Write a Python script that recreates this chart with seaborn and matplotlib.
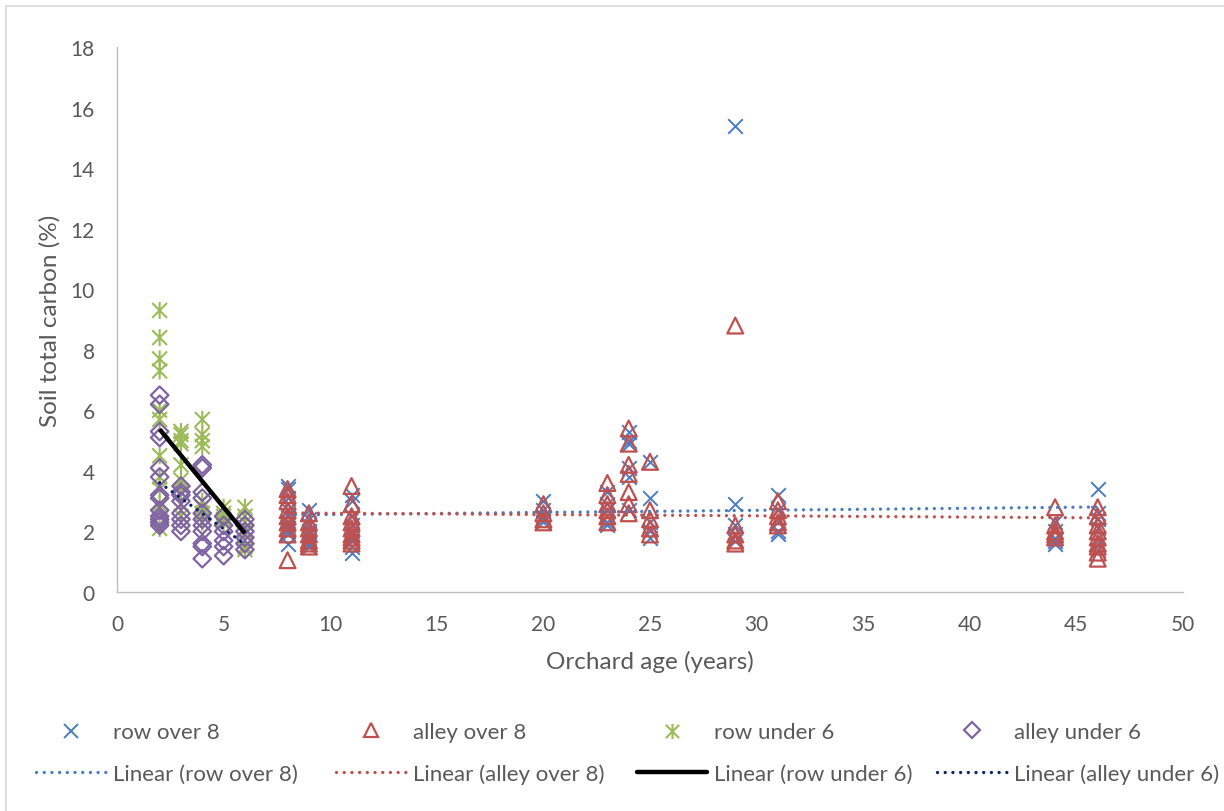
import numpy as np
import pandas as pd
import matplotlib
matplotlib.use("Agg")
import matplotlib.pyplot as plt
import seaborn as sns
from matplotlib.path import Path
from matplotlib.lines import Line2D

# ---------------- data ----------------
row_over8 = {
    8: [3.5, 3.4, 3.1, 2.9, 2.7, 2.5, 2.3, 2.2, 2.1, 2.0, 1.9, 1.6],
    9: [2.7, 2.4, 2.2, 2.0, 1.9, 1.8, 1.7, 1.6, 1.5],
    11: [3.2, 3.0, 2.5, 2.2, 2.0, 1.9, 1.8, 1.7, 1.5, 1.3],
    20: [3.0, 2.7, 2.5, 2.4, 2.3],
    23: [3.3, 2.9, 2.7, 2.5, 2.3, 2.2],
    24: [5.3, 5.0, 4.9, 4.1, 3.8, 2.7],
    25: [4.3, 3.1, 2.3, 2.0, 1.8],
    29: [15.4, 2.9, 2.2, 1.9, 1.7],
    31: [3.2, 2.7, 2.3, 2.0, 1.9],
    44: [2.3, 2.0, 1.8, 1.7, 1.6],
    46: [3.4, 2.6, 2.4, 2.1, 1.8, 1.6, 1.4],
}
alley_over8 = {
    8: [3.4, 3.2, 3.0, 2.7, 2.5, 2.3, 2.1, 1.9, 1.05],
    9: [2.6, 2.3, 2.1, 1.9, 1.7, 1.6, 1.5],
    11: [3.5, 2.9, 2.5, 2.3, 2.1, 1.9, 1.8, 1.7, 1.6],
    20: [2.9, 2.6, 2.4, 2.3],
    23: [3.6, 3.2, 2.9, 2.7, 2.5, 2.3],
    24: [5.4, 4.9, 4.2, 3.9, 3.3, 2.9, 2.6],
    25: [4.3, 2.7, 2.4, 2.1, 1.9],
    29: [8.8, 2.2, 1.9, 1.7, 1.6],
    31: [3.0, 2.7, 2.5, 2.3, 2.2],
    44: [2.8, 2.2, 2.0, 1.9, 1.8],
    46: [2.8, 2.5, 2.2, 2.0, 1.8, 1.6, 1.5, 1.3, 1.1],
}
row_under6 = {
    2: [9.3, 8.4, 7.7, 7.3, 6.0, 5.7, 4.5, 3.8, 3.4, 2.9, 2.1],
    3: [5.3, 5.2, 5.0, 4.9, 4.2, 3.7, 3.3, 2.9, 2.5],
    4: [5.7, 5.2, 5.0, 4.8, 3.0, 2.8, 2.6, 2.3],
    5: [2.8, 2.6, 2.5, 2.4, 2.3],
    6: [2.8, 2.5, 2.3, 2.0, 1.5, 1.4],
}
alley_under6 = {
    2: [6.5, 6.2, 5.3, 5.1, 4.1, 3.8, 3.2, 3.1, 2.7, 2.5, 2.4, 2.3, 2.2],
    3: [3.5, 3.3, 3.2, 3.0, 2.6, 2.4, 2.2, 2.0],
    4: [4.2, 4.1, 3.3, 3.1, 2.6, 2.4, 2.2, 2.0, 1.6, 1.5, 1.1],
    5: [2.5, 2.2, 2.0, 1.7, 1.5, 1.2],
    6: [2.4, 2.2, 2.0, 1.8, 1.6, 1.4],
}

series_labels = ["row over 8", "alley over 8", "row under 6", "alley under 6"]
x_ticks = list(range(0, 51, 5))
y_ticks = list(range(0, 19, 2))


def to_frame(d):
    ages, vals = [], []
    for a, vs in d.items():
        ages.extend([a] * len(vs))
        vals.extend(vs)
    return pd.DataFrame({"age": ages, "carbon": vals})


df_ro = to_frame(row_over8)
df_ao = to_frame(alley_over8)
df_ru = to_frame(row_under6)
df_au = to_frame(alley_under6)

# ---------------- style ----------------
sns.set_style("white")
plt.rcParams["font.family"] = ["Lato", "DejaVu Sans"]
TXT = "#595959"
BLUE = "#4A7CC4"
RED = "#C0504D"
GREEN = "#9BBB59"
PURPLE = "#8064A2"
NAVY = "#0B2466"

star = Path(
    [(-1, -1), (1, 1), (-1, 1), (1, -1), (0, -1.15), (0, 1.15)],
    [Path.MOVETO, Path.LINETO, Path.MOVETO, Path.LINETO, Path.MOVETO, Path.LINETO],
)

fig = plt.figure(figsize=(12.24, 8.12), dpi=100)
ax = fig.add_axes([117 / 1224, 1 - 593 / 812, (1183 - 117) / 1224, (593 - 48) / 812])

# scatter series
sns.scatterplot(data=df_ro, x="age", y="carbon", ax=ax, marker="x", color=BLUE,
                s=110, linewidth=1.4, legend=False, zorder=3)
sns.scatterplot(data=df_ao, x="age", y="carbon", ax=ax, marker="^", facecolor="none",
                edgecolor=RED, s=130, linewidth=1.6, legend=False, zorder=3)
sns.scatterplot(data=df_ru, x="age", y="carbon", ax=ax, marker=star, facecolor="none",
                edgecolor=GREEN, s=150, linewidth=1.5, legend=False, zorder=3)
sns.scatterplot(data=df_au, x="age", y="carbon", ax=ax, marker="D", facecolor="none",
                edgecolor=PURPLE, s=80, linewidth=1.6, legend=False, zorder=3)

# linear trendlines
dot = (0, (0.01, 2.3))
sns.regplot(data=df_ro, x="age", y="carbon", ax=ax, scatter=False, ci=None, truncate=True,
            line_kws=dict(color=BLUE, linestyle=dot, linewidth=2.4, dash_capstyle="round", zorder=4))
sns.regplot(data=df_ao, x="age", y="carbon", ax=ax, scatter=False, ci=None, truncate=True,
            line_kws=dict(color=RED, linestyle=dot, linewidth=2.4, dash_capstyle="round", zorder=4))
sns.regplot(data=df_ru, x="age", y="carbon", ax=ax, scatter=False, ci=None, truncate=True,
            line_kws=dict(color="black", linestyle="-", linewidth=3.2, solid_capstyle="butt", zorder=5))
sns.regplot(data=df_au, x="age", y="carbon", ax=ax, scatter=False, ci=None, truncate=True,
            line_kws=dict(color=NAVY, linestyle=dot, linewidth=2.4, dash_capstyle="round", zorder=5))

# axes
ax.set_xlim(0, 50)
ax.set_ylim(0, 18)
ax.set_xticks(x_ticks)
ax.set_yticks(y_ticks)
ax.tick_params(axis="both", length=0, labelsize=15, colors=TXT, pad=16)
for s in ["top", "right"]:
    ax.spines[s].set_visible(False)
for s in ["left", "bottom"]:
    ax.spines[s].set_color("#BFBFBF")
    ax.spines[s].set_linewidth(1.0)
ax.set_xlabel("Orchard age (years)", fontsize=17.5, color=TXT, labelpad=11)
ax.set_ylabel("Soil total carbon (%)", fontsize=17.5, color=TXT, labelpad=7)
ax.grid(False)

# legend: four two-row columns
mk_handles = [
    Line2D([], [], linestyle="none", marker="x", color=BLUE, markersize=10, markeredgewidth=1.4),
    Line2D([], [], linestyle="none", marker="^", markerfacecolor="none", markeredgecolor=RED,
           markersize=10, markeredgewidth=1.6),
    Line2D([], [], linestyle="none", marker=star, markerfacecolor="none", markeredgecolor=GREEN,
           markersize=11, markeredgewidth=1.5),
    Line2D([], [], linestyle="none", marker="D", markerfacecolor="none", markeredgecolor=PURPLE,
           markersize=8, markeredgewidth=1.6),
]
ln_handles = [
    Line2D([], [], color=BLUE, linestyle=dot, linewidth=2.4, dash_capstyle="round"),
    Line2D([], [], color=RED, linestyle=dot, linewidth=2.4, dash_capstyle="round"),
    Line2D([], [], color="black", linestyle="-", linewidth=3.2),
    Line2D([], [], color=NAVY, linestyle=dot, linewidth=2.4, dash_capstyle="round"),
]
col_x = [36, 336, 637, 937]
for i in range(4):
    fig.legend([mk_handles[i], ln_handles[i]],
               [series_labels[i], f"Linear ({series_labels[i]})"],
               loc="center left", bbox_to_anchor=(col_x[i] / 1224, 1 - 754 / 812),
               frameon=False, fontsize=16, labelcolor=TXT, handlelength=3.15,
               handletextpad=0.3, labelspacing=0.95, borderpad=0, borderaxespad=0)

# chart border (top and left edges visible)
fig.add_artist(Line2D([6 / 1224, 1], [1 - 7 / 812, 1 - 7 / 812], color="#D9D9D9", linewidth=1.2,
                      transform=fig.transFigure))
fig.add_artist(Line2D([6 / 1224, 6 / 1224], [0, 1 - 7 / 812], color="#D9D9D9", linewidth=1.2,
                      transform=fig.transFigure))

fig.savefig("out.png", dpi=100)
